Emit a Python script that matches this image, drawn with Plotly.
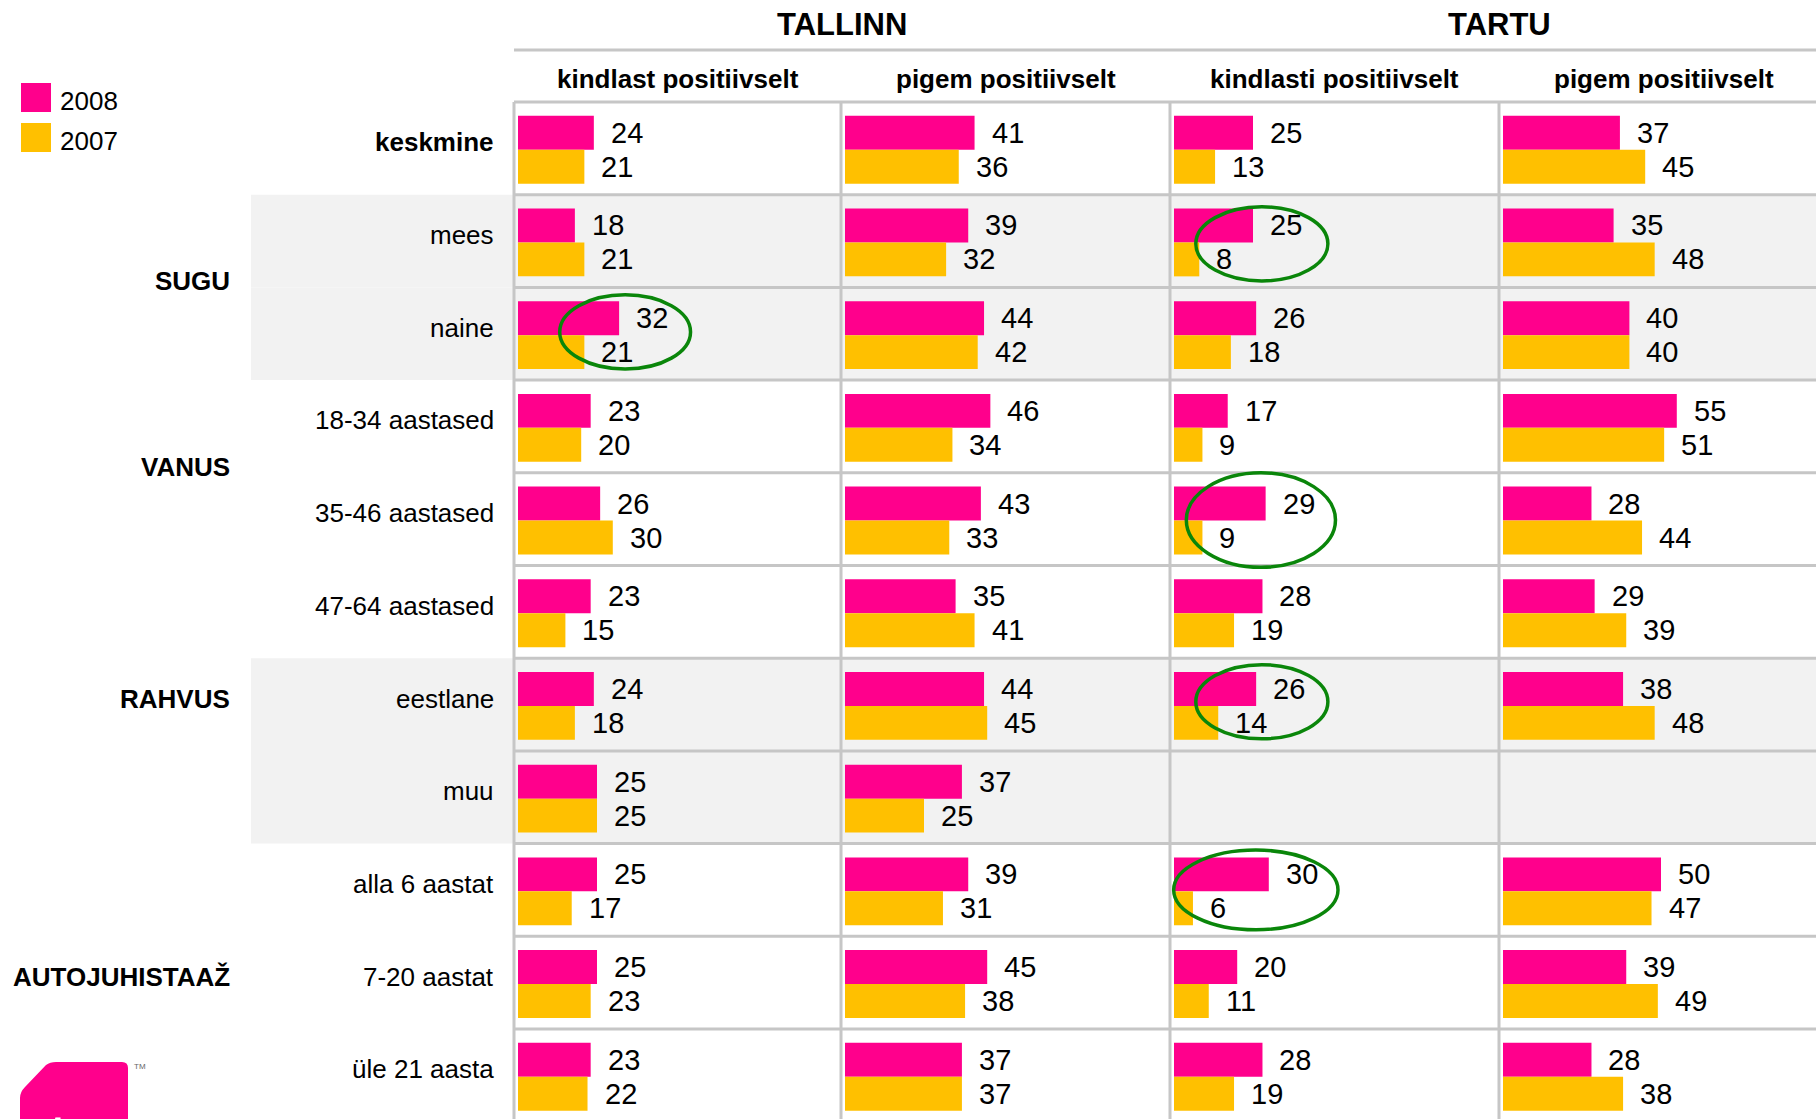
import plotly.graph_objects as go

# ---------------- data ----------------
rows = ["keskmine", "mees", "naine", "18-34 aastased", "35-46 aastased", "47-64 aastased",
        "eestlane", "muu", "alla 6 aastat", "7-20 aastat", "üle 21 aasta"]
groups = ["SUGU", "VANUS", "RAHVUS", "AUTOJUHISTAAŽ"]
group_pos = [1.5, 3.5, 6, 9]          # row position the group label sits on
shaded_rows = [1, 2, 6, 7]
cities = ["TALLINN", "TARTU"]
columns = ["kindlast positiivselt", "pigem positiivselt", "kindlasti positiivselt", "pigem positiivselt"]
years = ["2008", "2007"]

tallinn_kindlast_2008 = [24, 18, 32, 23, 26, 23, 24, 25, 25, 25, 23]
tallinn_kindlast_2007 = [21, 21, 21, 20, 30, 15, 18, 25, 17, 23, 22]
tallinn_pigem_2008 = [41, 39, 44, 46, 43, 35, 44, 37, 39, 45, 37]
tallinn_pigem_2007 = [36, 32, 42, 34, 33, 41, 45, 25, 31, 38, 37]
tartu_kindlasti_2008 = [25, 25, 26, 17, 29, 28, 26, None, 30, 20, 28]
tartu_kindlasti_2007 = [13, 8, 18, 9, 9, 19, 14, None, 6, 11, 19]
tartu_pigem_2008 = [37, 35, 40, 55, 28, 29, 38, None, 50, 39, 28]
tartu_pigem_2007 = [45, 48, 40, 51, 44, 39, 48, None, 47, 49, 38]

series_2008 = [tallinn_kindlast_2008, tallinn_pigem_2008, tartu_kindlasti_2008, tartu_pigem_2008]
series_2007 = [tallinn_kindlast_2007, tallinn_pigem_2007, tartu_kindlasti_2007, tartu_pigem_2007]

# highlight ellipses: (column, row, x centre, half width, row offset, half height)
highlights = [(0, 2, 33.9, 20.7, -0.02, 0.40),
              (2, 1, 27.8, 20.9, 0.03, 0.40),
              (2, 4, 27.5, 23.6, 0.01, 0.51),
              (2, 6, 27.8, 20.9, -0.03, 0.40),
              (2, 8, 25.9, 26.0, 0.00, 0.43)]

# ---------------- styling / geometry ----------------
W, H = 1816, 1119
FONT = "Liberation Sans, Arial, sans-serif"
PINK = "#FF008C"
YELLOW = "#FFC000"
GRID = "#c6c6c6"
SHADE = "#f2f2f2"
GREEN = "#0a860a"
HEAD_Y = 102.0
ROW_H = 92.7
COL_LINES = [514, 841, 1170, 1499, 1828]
PX_PER_UNIT = 3.16
BAR_PAD = 4
BAR_W = 0.366
PINK_OFF = -0.351
YEL_OFF = 0.015

y_top = -0.5 - HEAD_Y / ROW_H
y_bot = -0.5 + (H - HEAD_Y) / ROW_H


def paper_x(px):
    return px / W


def paper_y(py):
    return 1 - py / H


fig = go.Figure()
axis_names = ["x", "x2", "x3", "x4"]

for c in range(4):
    L = COL_LINES[c]
    R = min(COL_LINES[c + 1], W)
    ax = "xaxis" if c == 0 else f"xaxis{c + 1}"
    fig.update_layout(**{ax: dict(domain=[L / W, R / W],
                                  range=[-BAR_PAD / PX_PER_UNIT, (R - L - BAR_PAD) / PX_PER_UNIT],
                                  anchor="y", showgrid=False, zeroline=False, showticklabels=False,
                                  showline=False, ticks="", fixedrange=True)})
    fig.add_trace(go.Bar(x=series_2008[c], y=list(range(len(rows))), orientation="h",
                         width=BAR_W, offset=PINK_OFF, marker=dict(color=PINK, line=dict(width=0)),
                         xaxis=axis_names[c], yaxis="y", name=years[0], showlegend=False,
                         hoverinfo="x"))
    fig.add_trace(go.Bar(x=series_2007[c], y=list(range(len(rows))), orientation="h",
                         width=BAR_W, offset=YEL_OFF, marker=dict(color=YELLOW, line=dict(width=0)),
                         xaxis=axis_names[c], yaxis="y", name=years[1], showlegend=False,
                         hoverinfo="x"))

annotations = []
shapes = []

# value labels
for c in range(4):
    for i in range(len(rows)):
        for vals, off in ((series_2008[c], PINK_OFF), (series_2007[c], YEL_OFF)):
            v = vals[i]
            if v is None:
                continue
            annotations.append(dict(x=v, y=i + off + BAR_W / 2, xref=axis_names[c], yref="y",
                                    text=str(v), showarrow=False, xanchor="left", yanchor="middle",
                                    xshift=15, font=dict(family=FONT, size=29, color="black")))

# shaded backgrounds
for r in shaded_rows:
    shapes.append(dict(type="rect", xref="paper", yref="y", x0=paper_x(251), x1=1,
                       y0=r - 0.5, y1=r + 0.5, fillcolor=SHADE, line=dict(width=0), layer="below"))

# horizontal grid lines
shapes.append(dict(type="line", xref="paper", yref="paper", x0=paper_x(COL_LINES[0]), x1=1,
                   y0=paper_y(50), y1=paper_y(50), line=dict(color=GRID, width=3), layer="below"))
for r in range(len(rows)):
    shapes.append(dict(type="line", xref="paper", yref="y", x0=paper_x(COL_LINES[0]), x1=1,
                       y0=r - 0.5, y1=r - 0.5, line=dict(color=GRID, width=3), layer="below"))
# vertical grid lines
for c in range(4):
    shapes.append(dict(type="line", xref="paper", yref="y", x0=paper_x(COL_LINES[c]),
                       x1=paper_x(COL_LINES[c]), y0=-0.5, y1=y_bot,
                       line=dict(color=GRID, width=3), layer="below"))

# city headers
for k, city in enumerate(cities):
    cx = (COL_LINES[2 * k] + COL_LINES[2 * k + 2]) / 2
    annotations.append(dict(x=paper_x(cx), y=paper_y(24), xref="paper", yref="paper", text=f"<b>{city}</b>",
                            showarrow=False, xanchor="center", yanchor="middle",
                            font=dict(family=FONT, size=31, color="black")))
# column headers
for c, name in enumerate(columns):
    cx = (COL_LINES[c] + COL_LINES[c + 1]) / 2
    annotations.append(dict(x=paper_x(cx), y=paper_y(79), xref="paper", yref="paper", text=f"<b>{name}</b>",
                            showarrow=False, xanchor="center", yanchor="middle",
                            font=dict(family=FONT, size=26, color="black")))

# row labels
for i, name in enumerate(rows):
    txt = f"<b>{name}</b>" if i == 0 else name
    annotations.append(dict(x=paper_x(496), y=i, xref="paper", yref="y", text=txt, showarrow=False,
                            xanchor="right", yanchor="middle", yshift=6,
                            font=dict(family=FONT, size=26, color="black")))
# group labels
for g, pos in zip(groups, group_pos):
    annotations.append(dict(x=paper_x(232), y=pos, xref="paper", yref="y", text=f"<b>{g}</b>",
                            showarrow=False, xanchor="right", yanchor="middle", yshift=6,
                            font=dict(family=FONT, size=26, color="black")))

# legend (manual)
for k, (yr, col) in enumerate(zip(years, [PINK, YELLOW])):
    top = 83 + k * 40
    shapes.append(dict(type="rect", xref="paper", yref="paper", x0=paper_x(21), x1=paper_x(51),
                       y0=paper_y(top), y1=paper_y(top + 29), fillcolor=col, line=dict(width=0)))
    annotations.append(dict(x=paper_x(58), y=paper_y(top + 18), xref="paper", yref="paper", text=yr,
                            showarrow=False, xanchor="left", yanchor="middle",
                            font=dict(family=FONT, size=26, color="black")))

# green highlight ellipses around selected cells
for c, r, xc, hw, yo, hh in highlights:
    shapes.append(dict(type="circle", xref=axis_names[c], yref="y", x0=xc - hw, x1=xc + hw,
                       y0=r + yo - hh, y1=r + yo + hh,
                       line=dict(color=GREEN, width=3.5), layer="above"))

# logo (partially visible at bottom left)
logo_path = (f"M {paper_x(20)},{paper_y(1119)} L {paper_x(20)},{paper_y(1098)} "
             f"Q {paper_x(20)},{paper_y(1092)} {paper_x(25)},{paper_y(1087)} "
             f"L {paper_x(46)},{paper_y(1065)} Q {paper_x(50)},{paper_y(1062)} {paper_x(56)},{paper_y(1062)} "
             f"L {paper_x(122)},{paper_y(1062)} Q {paper_x(128)},{paper_y(1062)} {paper_x(128)},{paper_y(1068)} "
             f"L {paper_x(128)},{paper_y(1119)} Z")
shapes.append(dict(type="path", xref="paper", yref="paper", path=logo_path, fillcolor=PINK,
                   line=dict(width=0)))
annotations.append(dict(x=paper_x(132), y=paper_y(1066), xref="paper", yref="paper", text="TM",
                        showarrow=False, xanchor="left", yanchor="middle",
                        font=dict(family=FONT, size=8, color="#666")))
annotations.append(dict(x=paper_x(46), y=paper_y(1100), xref="paper", yref="paper", text="<b>tns</b>",
                        showarrow=False, xanchor="left", yanchor="top",
                        font=dict(family=FONT, size=58, color="white")))

fig.update_layout(
    width=W, height=H,
    margin=dict(l=0, r=0, t=0, b=0, pad=0),
    paper_bgcolor="white", plot_bgcolor="white",
    barmode="overlay", showlegend=False,
    yaxis=dict(domain=[0, 1], range=[y_bot, y_top], showgrid=False, zeroline=False,
               showticklabels=False, ticks="", showline=False, fixedrange=True),
    shapes=shapes, annotations=annotations,
    font=dict(family=FONT),
)

fig.write_html("out.html", config={"displayModeBar": False},
               post_script="document.body.style.margin='0px';document.body.style.overflow='hidden';")
